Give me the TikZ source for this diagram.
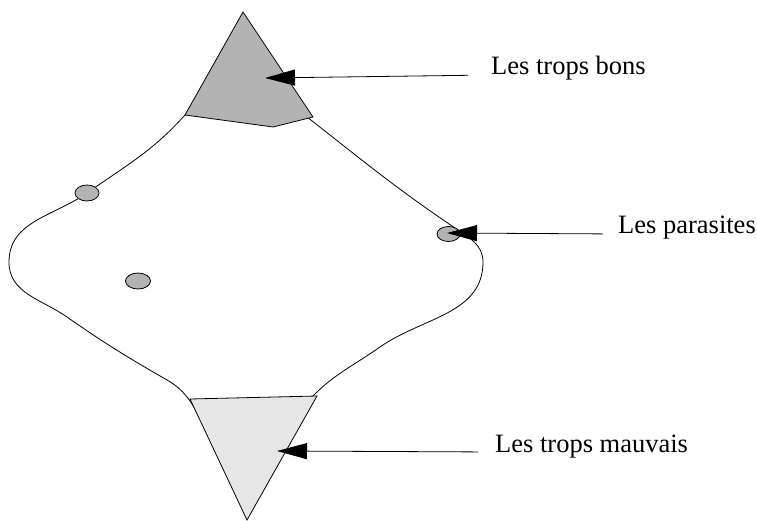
\documentclass[tikz,border=0pt]{standalone}
\usepackage{fontspec}
\setmainfont{Liberation Serif}
\usepackage{tikz}
\usetikzlibrary{arrows.meta}
\definecolor{topgray}{HTML}{B3B3B3}
\definecolor{lowgray}{HTML}{E6E6E6}

\begin{document}
\begin{tikzpicture}[
  x=1pt, y=-1pt,
  outline/.style={draw, line width=0.8pt},
  good/.style={outline, fill=topgray},
  bad/.style={outline, fill=lowgray},
  blob/.style={outline, fill=topgray},
  label/.style={anchor=base west, inner sep=0pt, font=\fontsize{26.5}{30}\selectfont},
  pointer/.style={line width=0.8pt, -{Triangle[length=30pt,width=16pt]}}
]
\useasboundingbox (0,0) rectangle (757,521);

% the population outline
\draw[outline] (185,115) to[out=228,in=35] (87,193) to[out=215,in=90] (9,262)
  to[out=-90,in=145] (67,317) to[out=-35,in=150] (167,380) to[out=-30,in=118] (200,418);
\draw[outline] (307,117) to[out=-38,in=146] (455,228) to[out=-34,in=90] (483,262)
  to[out=-90,in=35] (380,347) to[out=215,in=50] (305,405);

% extremes
\draw[good] (243,12) -- (313,117) -- (273,127) -- (185,115) -- cycle;
\draw[bad] (190,399) -- (317,396) -- (247,520) -- cycle;

% parasites
\draw[blob] (87,193) ellipse (12 and 8);
\draw[blob] (138,281) ellipse (12.5 and 8);
\draw[blob] (448.5,234) ellipse (11.5 and 7.5);

\coordinate (tipBons) at (265,78);
\coordinate (tipPara) at (447,233);
\coordinate (tipMauv) at (277,451);

\node[label] (bons) at (491,75) {Les trops bons};
\node[label] (para) at (618,234) {Les parasites};
\node[label] (mauv) at (495,452) {Les trops mauvais};

\draw[pointer, shorten <=23pt] (bons.base west) -- (tipBons);
\draw[pointer, shorten <=15pt] (para.base west) -- (tipPara);
\draw[pointer, shorten <=17pt] (mauv.base west) -- (tipMauv);
\end{tikzpicture}
\end{document}
